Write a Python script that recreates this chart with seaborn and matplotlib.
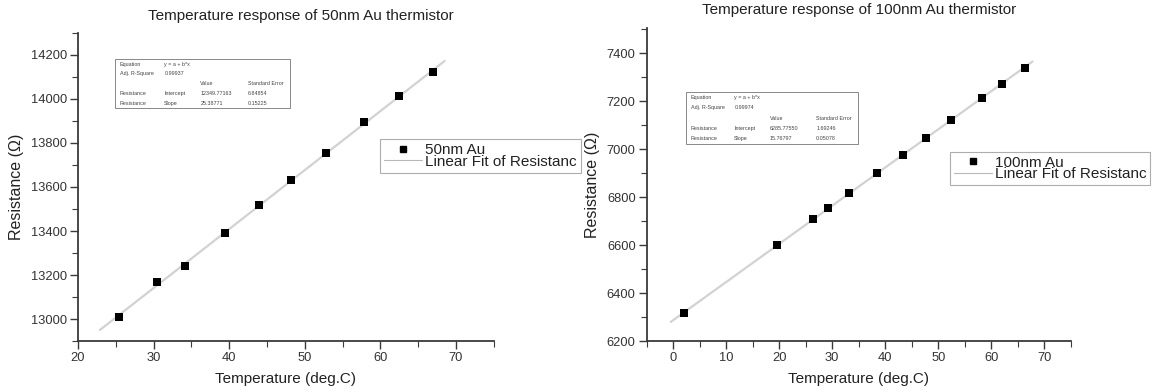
import numpy as np
import pandas as pd
import matplotlib
matplotlib.use("Agg")
import matplotlib.pyplot as plt
import seaborn as sns
from matplotlib.lines import Line2D
from matplotlib.patches import Rectangle
from matplotlib.ticker import MultipleLocator

# --- data ---
temp_50 = [25.4, 30.5, 34.2, 39.4, 44.0, 48.2, 52.8, 57.9, 62.5, 67.0]
res_50 = [13008, 13169, 13243, 13391, 13517, 13634, 13754, 13895, 14012, 14123]

temp_100 = [2.0, 19.6, 26.4, 29.2, 33.2, 38.4, 43.3, 47.7, 52.5, 58.3, 62.1, 66.3]
res_100 = [6315, 6601, 6708, 6753, 6818, 6900, 6977, 7048, 7122, 7214, 7274, 7341]

titles = ["Temperature response of 50nm Au thermistor",
          "Temperature response of 100nm Au thermistor"]
series_names = ["50nm Au", "100nm Au"]
fit_name = "Linear Fit of Resistanc"

fit_tables = [
    [["Equation", "y = a + b*x", "", ""],
     ["Adj. R-Square", "0.99937", "", ""],
     ["", "", "Value", "Standard Error"],
     ["Resistance", "Intercept", "12349.77163", "6.84854"],
     ["Resistance", "Slope", "25.38771", "0.15225"]],
    [["Equation", "y = a + b*x", "", ""],
     ["Adj. R-Square", "0.99974", "", ""],
     ["", "", "Value", "Standard Error"],
     ["Resistance", "Intercept", "6285.77550", "1.69246"],
     ["Resistance", "Slope", "15.76797", "0.05078"]],
]

sns.set_theme(style="ticks")
plt.rcParams["font.family"] = ["Liberation Sans", "DejaVu Sans"]

fig = plt.figure(figsize=(11.55, 3.92), dpi=100)
ax1 = fig.add_axes([0.0675, 0.13, 0.360, 0.786])
ax2 = fig.add_axes([0.560, 0.13, 0.367, 0.798])

panels = [
    (ax1, temp_50, res_50, (20, 75), (12900, 14300), (13000, 14200),
     [0.09, 0.755, 0.42, 0.16], (0.727, 0.655), 0.536, 9),
    (ax2, temp_100, res_100, (-5, 75), (6200, 7505), (6200, 7400),
     [0.093, 0.63, 0.405, 0.165], (0.715, 0.605), 0.5, 10),
]

for i, (ax, xs, ys, xlim, ylim, yrange, tbl_box, leg_pos, title_x, tpad) in enumerate(panels):
    df = pd.DataFrame({"T": xs, "R": ys})
    b, a = np.polyfit(df["T"], df["R"], 1)
    fx = np.linspace(df["T"].min() - 2.5, df["T"].max() + 1.5, 50)
    fit_df = pd.DataFrame({"T": fx, "R": a + b * fx})

    sns.lineplot(data=fit_df, x="T", y="R", ax=ax, color="#d2d2d2", lw=1.6, zorder=1)
    sns.scatterplot(data=df, x="T", y="R", ax=ax, marker="s", s=28,
                    color="black", edgecolor="black", linewidth=0, zorder=3)

    ax.set_xlim(*xlim)
    ax.xaxis.set_major_locator(MultipleLocator(10))
    ax.xaxis.set_minor_locator(MultipleLocator(5))
    ax.set_yticks(np.arange(yrange[0], yrange[1] + 1, 200))
    ax.yaxis.set_minor_locator(MultipleLocator(100))
    ax.set_ylim(*ylim)
    sns.despine(ax=ax)
    for s in ["left", "bottom"]:
        ax.spines[s].set_color("#3a3a3a")
        ax.spines[s].set_linewidth(1.3)
    ax.tick_params(which="major", direction="out", length=6, width=1,
                   color="#3a3a3a", labelsize=9.3, labelcolor="#333333", pad=2)
    ax.tick_params(which="minor", direction="out", length=4, width=0.8,
                   color="#3a3a3a")

    ax.set_xlabel("Temperature (deg.C)", fontsize=11, color="#222222", labelpad=6)
    ax.set_ylabel("Resistance (\u03a9)", fontsize=11.5, color="#222222", labelpad=5)
    ax.set_title(titles[i], fontsize=11, color="#222222", x=title_x, pad=tpad)

    # fit results table
    tb = ax.table(cellText=fit_tables[i], bbox=tbl_box, edges="open",
                  cellLoc="left", colWidths=[0.26, 0.2, 0.27, 0.27])
    tb.auto_set_font_size(False)
    for (r, c), cell in tb.get_celld().items():
        cell.set_text_props(fontsize=3.9, color="#444444")
        if c >= 2:
            cell._loc = "right"
    ax.add_patch(Rectangle((tbl_box[0], tbl_box[1]), tbl_box[2], tbl_box[3],
                           transform=ax.transAxes, fill=False,
                           edgecolor="#888888", lw=0.7, zorder=5))

    handles = [Line2D([], [], marker="s", ls="none", color="black", markersize=5),
               Line2D([], [], color="#b8b8b8", lw=0.8)]
    leg = ax.legend(handles, [series_names[i], fit_name], loc="upper left",
                    bbox_to_anchor=leg_pos, fontsize=11, frameon=True,
                    fancybox=False, edgecolor="#999999", borderpad=0.25,
                    handlelength=2.5, handletextpad=0.2, labelspacing=-0.15,
                    borderaxespad=0)
    leg.get_frame().set_linewidth(0.8)
    for t in leg.get_texts():
        t.set_color("#222222")

fig.savefig("out.png", dpi=100)
